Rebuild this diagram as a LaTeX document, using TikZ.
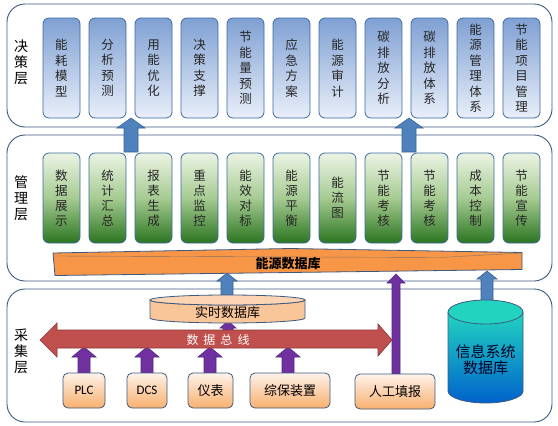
\documentclass[tikz,border=0pt]{standalone}
\usepackage{fontspec}
\setmainfont{Noto Sans CJK SC}
\newfontfamily\calib{Carlito}
\definecolor{panelline}{HTML}{3C5A80}
\definecolor{boxline}{HTML}{3E6AA0}
\definecolor{blueT}{HTML}{7FA0D3}
\definecolor{blueB}{HTML}{E9EFF9}
\definecolor{greenT}{HTML}{ECF4E4}
\definecolor{greenM}{HTML}{A6CB92}
\definecolor{greenB}{HTML}{2B7520}
\definecolor{arrblue}{HTML}{4F81BD}
\definecolor{arrblueD}{HTML}{3A6496}
\definecolor{arrpurple}{HTML}{7030A0}
\definecolor{arrpurpleD}{HTML}{4E2A80}
\definecolor{busred}{HTML}{C0504D}
\definecolor{busredD}{HTML}{8C3836}
\definecolor{barorange}{HTML}{F79646}
\definecolor{peachT}{HTML}{FEF2EA}
\definecolor{peachB}{HTML}{F8B06E}
\definecolor{cylpeach}{HTML}{F9C699}
\definecolor{cylpeachT}{HTML}{FBD5B3}
\definecolor{infoT}{HTML}{22D4C0}
\definecolor{infoB}{HTML}{0062CC}
\newcommand\bkarrow[7]{\filldraw[#7] (#1-#4,#2) -- (#1-#4,#3-#6) -- (#1-#5,#3-#6) -- (#1,#3) -- (#1+#5,#3-#6) -- (#1+#4,#3-#6) -- (#1+#4,#2) -- cycle;}
\tikzset{
  panel/.style={draw=panelline, line width=0.9pt, rounded corners=18pt},
  layerlabel/.style={align=center, font=\fontsize{14}{16}\selectfont, inner sep=0pt},
  topbox/.style={draw=boxline, line width=0.8pt, rounded corners=6pt, top color=blueT, bottom color=blueB,
     minimum width=37pt, minimum height=100pt, inner sep=0pt, align=center, font=\fontsize{12.5}{15.5}\selectfont, text=black!85},
  midbox/.style={draw=boxline, line width=0.8pt, rounded corners=6pt, top color=greenT, bottom color=greenB, middle color=greenM,
     minimum width=37pt, minimum height=90pt, inner sep=0pt, align=center, font=\fontsize{12.5}{15}\selectfont, text=black!85},
  srcbox/.style={draw=panelline, line width=0.8pt, rounded corners=5pt, top color=peachT, bottom color=peachB,
     minimum height=35pt, inner sep=0pt, font=\fontsize{13}{15}\selectfont},
  bluearr/.style={fill=arrblue, draw=arrblueD, line width=0.6pt},
  purplearr/.style={fill=arrpurple, draw=arrpurpleD, line width=0.6pt},
}
\begin{document}
\begin{tikzpicture}[x=1pt,y=1pt]
\fill[white] (0,0) rectangle (558,-426);
\useasboundingbox (0,0) rectangle (558,-426);
% panels
\draw[panel] (7,-4) rectangle (552,-127);
\draw[panel] (7,-135) rectangle (552,-281);
\draw[panel] (7,-289) rectangle (552,-422);
\node[layerlabel] (L1) at (21,-62) {决\\策\\层};
\node[layerlabel] (L2) at (21,-198) {管\\理\\层};
\node[layerlabel] (L3) at (21,-351) {采\\集\\层};
% top boxes
\node[topbox] (t1) at (61.5,-68) {能\\耗\\模\\型};
\node[topbox] (t2) at (107.5,-68) {分\\析\\预\\测};
\node[topbox] (t3) at (153.5,-68) {用\\能\\优\\化};
\node[topbox] (t4) at (199.5,-68) {决\\策\\支\\撑};
\node[topbox] (t5) at (245.5,-68) {节\\能\\量\\预\\测};
\node[topbox] (t6) at (291.5,-68) {应\\急\\方\\案};
\node[topbox] (t7) at (337.5,-68) {能\\源\\审\\计};
\node[topbox] (t8) at (383.5,-68) {碳\\排\\放\\分\\析};
\node[topbox] (t9) at (429.5,-68) {碳\\排\\放\\体\\系};
\node[topbox] (t10) at (475.5,-68) {能\\源\\管\\理\\体\\系};
\node[topbox] (t11) at (521.5,-68) {节\\能\\项\\目\\管\\理};
% arrows management -> decision
\bkarrow{131}{-152}{-118}{7}{14}{10}{bluearr}
\bkarrow{409}{-152}{-118}{7}{14}{10}{bluearr}
% green boxes
\node[midbox] (m1) at (61.5,-198) {数\\据\\展\\示};
\node[midbox] (m2) at (107.5,-198) {统\\计\\汇\\总};
\node[midbox] (m3) at (153.5,-198) {报\\表\\生\\成};
\node[midbox] (m4) at (199.5,-198) {重\\点\\监\\控};
\node[midbox] (m5) at (245.5,-198) {能\\效\\对\\标};
\node[midbox] (m6) at (291.5,-198) {能\\源\\平\\衡};
\node[midbox] (m7) at (337.5,-198) {能\\流\\图};
\node[midbox] (m8) at (383.5,-198) {节\\能\\考\\核};
\node[midbox] (m9) at (429.5,-198) {节\\能\\考\\核};
\node[midbox] (m10) at (475.5,-198) {成\\本\\控\\制};
\node[midbox] (m11) at (521.5,-198) {节\\能\\宣\\传};
% arrows acquisition -> energy database
\bkarrow{227}{-297}{-273}{6}{10}{8}{bluearr}
\bkarrow{487}{-303}{-271}{6}{10}{8}{bluearr}
\bkarrow{396}{-374}{-274}{4}{9}{9}{purplearr}
% energy database bar
\filldraw[fill=barorange, draw=panelline, line width=0.8pt]
  (53,-253) -- (290,-248.5) -- (522,-252.5) -- (522,-269.5) -- (290,-272.5) -- (55,-275.5) -- cycle;
\draw[panelline!60!barorange, line width=0.4pt] (55,-256) -- (440,-257.5) -- (522,-253);
\node[inner sep=0pt, font=\fontsize{13}{15}\selectfont\bfseries] (edb) at (288,-264) {能源数据库};
% small arrow bus -> realtime db
\bkarrow{228}{-333}{-321}{5}{8}{7}{purplearr}
% source arrows
\bkarrow{84}{-374}{-347}{6}{12}{10}{purplearr}
\bkarrow{147}{-374}{-347}{6}{12}{10}{purplearr}
\bkarrow{210}{-374}{-347}{6}{12}{10}{purplearr}
\bkarrow{288}{-374}{-347}{6}{12}{10}{purplearr}
% data bus
\filldraw[fill=busred, draw=busredD, line width=0.7pt]
  (40,-340) -- (57,-323) -- (57,-330) -- (378,-330) -- (378,-324) -- (392,-340) -- (378,-356) -- (378,-348) -- (57,-348) -- (57,-357) -- cycle;
\node[text=white, inner sep=0pt, font=\fontsize{12}{14}\selectfont] (bus) at (218,-339.5) {数\hspace{5pt}据\hspace{5pt}总\hspace{5pt}线};
% real-time database cylinder
\filldraw[fill=cylpeach, draw=panelline, line width=0.8pt]
  (150,-300) -- (150,-318) arc[start angle=180, end angle=360, x radius=77.5, y radius=5] -- (305,-300)
  arc[start angle=0, end angle=-180, x radius=77.5, y radius=5] -- cycle;
\filldraw[fill=cylpeachT, draw=panelline, line width=0.8pt] (227.5,-300) ellipse[x radius=77.5, y radius=5];
\node[inner sep=0pt, font=\fontsize{13}{15}\selectfont] (rtdb) at (227.5,-313) {实时数据库};
% info system database cylinder
\shade[top color=infoT, bottom color=infoB]
  (448,-312) -- (448,-391) arc[start angle=180, end angle=360, x radius=37.5, y radius=12] -- (523,-312)
  arc[start angle=0, end angle=-180, x radius=37.5, y radius=12] -- cycle;
\draw[panelline, line width=0.8pt] (448,-312) -- (448,-391) arc[start angle=180, end angle=360, x radius=37.5, y radius=12] -- (523,-312);
\filldraw[fill=infoT, draw=panelline, line width=0.8pt] (485.5,-312) ellipse[x radius=37.5, y radius=12];
\node[inner sep=0pt, align=center, text=black!85!blue, font=\fontsize{15}{16}\selectfont] (isdb) at (485.5,-360) {信息系统\\数据库};
% source boxes
\node[srcbox, minimum width=42pt, font=\calib\fontsize{13}{15}\selectfont] (plc) at (84,-390.5) {PLC};
\node[srcbox, minimum width=40pt, font=\calib\fontsize{13}{15}\selectfont] (dcs) at (147,-390.5) {DCS};
\node[srcbox, minimum width=45pt] (yb) at (210.5,-390.5) {仪表};
\node[srcbox, minimum width=80pt] (zb) at (290,-390.5) {综保装置};
\node[srcbox, minimum width=80pt] (rg) at (395,-391.5) {人工填报};
\end{tikzpicture}
\end{document}
